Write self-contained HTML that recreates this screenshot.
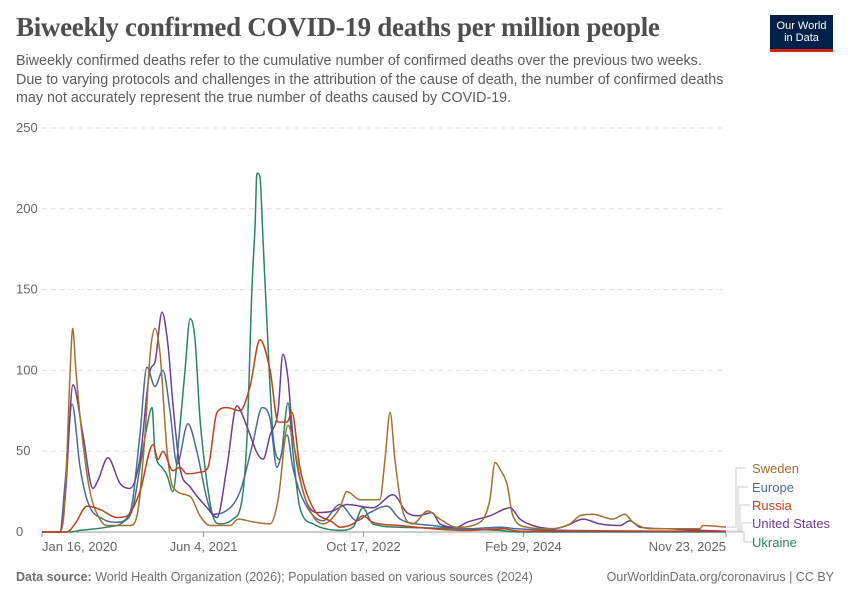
<!DOCTYPE html>
<html><head><meta charset="utf-8">
<style>
body{margin:0;background:#fff;font-family:"Liberation Sans",sans-serif;}
#wrap{position:relative;width:850px;height:600px;overflow:hidden;}
h1{position:absolute;left:16px;top:12px;margin:0;font-family:"Liberation Serif",serif;font-size:27px;font-weight:bold;color:#4e4e4e;letter-spacing:-0.3px;}
.sub{position:absolute;left:16px;top:52px;width:715px;font-size:14.3px;line-height:18.7px;color:#5b5b5b;}
.logo{position:absolute;left:770px;top:15px;width:63px;height:37px;background:#002147;border-bottom:3px solid #ce261e;color:#fff;font-size:11px;line-height:12px;text-align:center;padding-top:5px;box-sizing:border-box;}
.foot{position:absolute;top:570px;font-size:12.5px;color:#6e6e6e;}
</style></head><body>
<div id="wrap">
<h1>Biweekly confirmed COVID-19 deaths per million people</h1>
<div class="sub">Biweekly confirmed deaths refer to the cumulative number of confirmed deaths over the previous two weeks. Due to varying protocols and challenges in the attribution of the cause of death, the number of confirmed deaths may not accurately represent the true number of deaths caused by COVID-19.</div>
<div class="logo">Our World<br>in Data</div>
<svg id="chart" width="850" height="600" style="position:absolute;left:0;top:0"></svg>
<div class="foot" style="left:16px"><b>Data source:</b> World Health Organization (2026); Population based on various sources (2024)</div>
<div class="foot" style="right:16px">OurWorldinData.org/coronavirus | CC BY</div>
</div>
<script>
// days since Jan 16, 2020
const yTicks=[0,50,100,150,200,250];
const xTickDays=[0,505,1005,1505,2138];
const xTickLabels=["Jan 16, 2020","Jun 4, 2021","Oct 17, 2022","Feb 29, 2024","Nov 23, 2025"];
const seriesNames=["Sweden","Europe","Russia","United States","Ukraine"];
const seriesColors=["#a2702f","#4c6a9c","#c1401a","#6d3e91","#2c8465"];
const swedenDays=[0,56,72,88,96,106,125,150,181,203,275,297,322,338,353,369,391,409,463,494,525,588,613,666,713,738,769,791,816,878,931,953,994,1056,1072,1088,1103,1125,1159,1206,1244,1297,1369,1400,1416,1434,1453,1472,1516,1588,1650,1681,1722,1784,1822,1847,1900,2056,2066,2138];
const swedenVals=[0,0,20,100,126,100,60,25,8,4,4,10,60,110,126,110,50,28,22,10,4,4,8,6,5,20,66,50,25,5,15,25,20,20,45,74,45,15,5,13,8,3,6,20,43,38,30,10,3,2,5,10,11,8,11,6,2,2,4,3];
const europeDays=[0,56,72,94,119,144,191,234,275,306,328,353,378,400,422,456,484,516,534,566,619,659,688,713,734,766,784,816,878,931,984,1025,1078,1119,1222,1328,1431,1484,1641,2138];
const europeVals=[0,0,30,79,40,18,8,6,12,60,102,90,100,75,42,67,50,20,11,12,25,55,77,70,40,60,40,20,7,17,7,12,16,8,4,2,3,2,1,0.5];
const russiaDays=[0,78,103,141,181,234,266,306,347,363,378,409,431,453,494,519,547,578,619,650,681,713,738,766,781,806,847,909,931,972,1003,1034,1119,1222,1328,1441,1494,2138];
const russiaVals=[0,0,5,16,14,9,10,25,54,45,50,38,40,36,37,40,74,77,75,90,119,100,68,68,74,40,15,6,3,5,10,6,4,2,1,2,0.5,0.3];
const usDays=[0,56,72,97,128,159,175,206,244,275,306,338,353,375,394,409,431,463,516,547,578,609,641,672,691,713,738,753,769,784,816,859,909,953,1034,1097,1141,1175,1219,1244,1297,1328,1400,1463,1494,1534,1597,1641,1691,1744,1806,1838,1869,1953,2056,2138];
const usVals=[0,0,20,91,60,27,32,46,30,27,45,100,105,136,115,80,40,28,15,9,40,78,65,49,45,60,75,110,95,60,25,12,13,17,15,23,12,10,12,5,3,6,10,15,8,4,2,4,8,5,4,7,3,2,1,0.5];
const ukraineDays=[0,88,119,203,253,284,306,328,344,353,375,391,409,431,447,463,478,494,516,534,556,597,625,641,656,666,672,681,691,703,722,744,769,784,806,847,931,972,1003,1034,1119,1431,1484,2138];
const ukraineVals=[0,0,1,3,6,15,40,65,77,50,40,35,25,65,100,132,120,70,30,10,5,8,20,60,150,190,222,220,180,130,60,45,80,50,15,5,1,3,15,5,3,1,0,0];

const NS="http://www.w3.org/2000/svg";
const svg=document.getElementById('chart');
const X0=42,X1=726,Y0=532,Y1=128;
const xs=d=>X0+d/2138*(X1-X0);
const ys=v=>Y0-v/250*(Y0-Y1);
function mk(t,a){const e=document.createElementNS(NS,t);for(const k in a)e.setAttribute(k,a[k]);svg.appendChild(e);return e;}
function monotonePath(px,py){
  const n=px.length;const dx=[],m=[],t=[];
  for(let i=0;i<n-1;i++){dx[i]=px[i+1]-px[i];m[i]=dx[i]?(py[i+1]-py[i])/dx[i]:0;}
  t[0]=m[0];t[n-1]=m[n-2];
  for(let i=1;i<n-1;i++){t[i]=(m[i-1]*m[i]<=0)?0:(m[i-1]+m[i])/2;}
  for(let i=0;i<n-1;i++){if(m[i]===0){t[i]=0;t[i+1]=0;continue;}
    const a=t[i]/m[i],b=t[i+1]/m[i],s=a*a+b*b;if(s>9){const k=3/Math.sqrt(s);t[i]=k*a*m[i];t[i+1]=k*b*m[i];}}
  let d='M'+px[0].toFixed(1)+','+py[0].toFixed(1);
  for(let i=0;i<n-1;i++){const h=dx[i]/3;
    d+='C'+(px[i]+h).toFixed(1)+','+(py[i]+t[i]*h).toFixed(1)+' '+(px[i+1]-h).toFixed(1)+','+(py[i+1]-t[i+1]*h).toFixed(1)+' '+px[i+1].toFixed(1)+','+py[i+1].toFixed(1);}
  return d;
}
yTicks.forEach(v=>{
  if(v>0){const g=mk('line',{x1:X0,x2:X1,y1:ys(v),y2:ys(v),stroke:'#ddd','stroke-dasharray':'5,4'});
  
  }
  const t=mk('text',{x:16,y:ys(v)+4,'font-size':13,fill:'#666','font-family':'Liberation Sans'});
  t.textContent=v;
  
  
});
const ax=mk('line',{x1:X0,x2:X1,y1:Y0,y2:Y0,stroke:'#999'});


xTickDays.forEach((d,i)=>{
  const tk=mk('line',{x1:xs(d),x2:xs(d),y1:Y0,y2:Y0+5,stroke:'#999'});
  
  
  const anchor=i==0?'start':(i==xTickDays.length-1?'end':'middle');
  const t=mk('text',{x:xs(d),y:551,'font-size':13,fill:'#666','text-anchor':anchor,'font-family':'Liberation Sans'});
  t.textContent=xTickLabels[i];
  
  
});
const allDays=[swedenDays,europeDays,russiaDays,usDays,ukraineDays];
const allVals=[swedenVals,europeVals,russiaVals,usVals,ukraineVals];
const drawOrder=[4,1,3,0,2];
drawOrder.forEach(i=>{
  const D=allDays[i],V=allVals[i];
  const p=monotonePath(D.map(xs),V.map(ys));
  const path=mk('path',{d:p,fill:'none',stroke:seriesColors[i],'stroke-width':1.5,'stroke-linejoin':'round'});
  
  
});
const labelY=[472,491,509,527,546];
seriesNames.forEach((n,i)=>{
  const V=allVals[i];
  const ey=ys(V[V.length-1]);
  const vx=736+i*2;
  const c=mk('path',{d:`M${X1+1},${ey}H${vx}V${labelY[i]-4}H${vx+10}`,fill:'none',stroke:'#ccc','stroke-width':1});
  
  
  const t=mk('text',{x:752,y:labelY[i]+1,'font-size':13,fill:seriesColors[i],'font-family':'Liberation Sans'});
  t.textContent=n;
  
  
});
</script>
</body></html>
